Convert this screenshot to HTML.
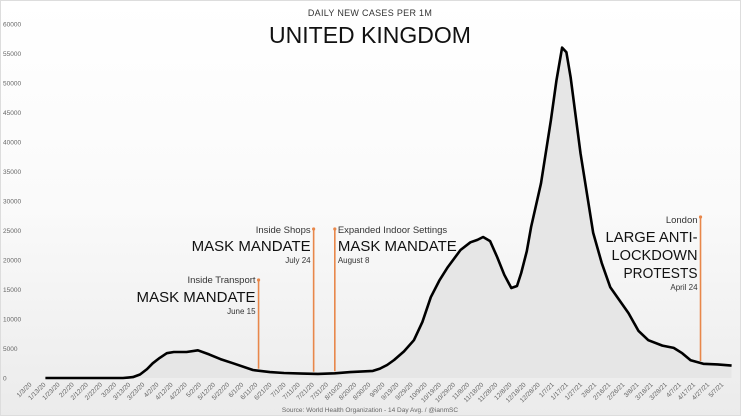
<!DOCTYPE html>
<html><head><meta charset="utf-8">
<style>
html,body{margin:0;padding:0;background:#fff;}
svg{display:block;font-family:"Liberation Sans",sans-serif;}
</style></head>
<body>
<svg id="chart" width="741" height="416" viewBox="0 0 741 416" xmlns="http://www.w3.org/2000/svg">
<defs>
<linearGradient id="bg" x1="0" y1="0" x2="0" y2="1">
<stop offset="0" stop-color="#ffffff"/><stop offset="0.5" stop-color="#fafafa"/><stop offset="1" stop-color="#ebebeb"/>
</linearGradient>
</defs>
<rect x="0" y="0" width="741" height="416" fill="url(#bg)"/>
<rect x="0.5" y="0.5" width="740" height="415" fill="none" stroke="#ddd"/>
<g id="yaxis"></g>
<g id="xaxis"></g>
<g id="series"></g>
<g id="notes"></g>
<text x="370" y="16" text-anchor="middle" font-size="9" fill="#333" letter-spacing="0.3">DAILY NEW CASES PER 1M</text>
<text x="370" y="43" text-anchor="middle" font-size="23" fill="#111">UNITED KINGDOM</text>
<text x="370" y="412" text-anchor="middle" font-size="6.5" fill="#666">Source: World Health Organization - 14 Day Avg. / @ianmSC</text>
</svg>
<script>
const yTicks=[0,5000,10000,15000,20000,25000,30000,35000,40000,45000,50000,55000,60000];
const xTickLabels=["1/3/20","1/13/20","1/23/20","2/2/20","2/12/20","2/22/20","3/3/20","3/13/20","3/23/20","4/2/20","4/12/20","4/22/20","5/2/20","5/12/20","5/22/20","6/1/20","6/11/20","6/21/20","7/1/20","7/11/20","7/21/20","7/31/20","8/10/20","8/20/20","8/30/20","9/9/20","9/19/20","9/29/20","10/9/20","10/19/20","10/29/20","11/8/20","11/18/20","11/28/20","12/8/20","12/18/20","12/28/20","1/7/21","1/17/21","1/27/21","2/6/21","2/16/21","2/26/21","3/8/21","3/18/21","3/28/21","4/7/21","4/17/21","4/27/21","5/7/21"];
const days=[13,68,75,80,85,89,94,99,104,113,121,129,137,146,160,172,182,195,206,218,229,245,250,255,260,267,274,280,286,292,298,307,314,319,323,328,333,338,343,347,350,354,357,364,371,375,379,382,385,392,401,407,413,426,433,440,450,458,464,470,479,489,499];
const cases=[0,0,150,600,1500,2500,3400,4200,4400,4400,4700,4000,3200,2500,1350,1000,850,750,700,800,1000,1200,1600,2200,3050,4500,6400,9500,13700,16500,18800,21700,23000,23400,23900,23200,20500,17500,15250,15600,17800,21500,25600,33000,43700,50500,56000,55200,51000,38100,24600,19500,15400,11000,8000,6400,5500,5100,4200,3000,2400,2300,2100];
const noteDays=[164,203,218,477];
const noteTops=[280,229,229,217];

const NS="http://www.w3.org/2000/svg";
const X0=27,DX=1.412,Y0=378,YS=354/60000;
function xs(d){return X0+d*DX;}
function ys(v){return Y0-v*YS;}
function mk(tag,attrs,parent,txt){const e=document.createElementNS(NS,tag);for(const k in attrs)e.setAttribute(k,attrs[k]);if(txt!==undefined)e.textContent=txt;parent.appendChild(e);return e;}

const ya=document.getElementById('yaxis');
yTicks.forEach(v=>{
  const t=mk('text',{x:3,y:ys(v)+2.5,'font-size':6.5,fill:'#666'},ya,String(v));
  
  
});
const xa=document.getElementById('xaxis');
xTickLabels.forEach((s,i)=>{
  const x=xs(i*10)+5,y=385;
  const t=mk('text',{x:x,y:y,'font-size':6.5,fill:'#666','text-anchor':'end',transform:`rotate(-45 ${x} ${y})`},xa,s);
  
  
});

const sg=document.getElementById('series');
let pts=days.map((d,i)=>[xs(d),ys(cases[i])]);
const linePath='M'+pts.map(p=>p[0].toFixed(1)+','+p[1].toFixed(1)).join(' L');
const area=mk('path',{d:linePath+` L${pts[pts.length-1][0]},${Y0} L${pts[0][0]},${Y0} Z`,fill:'#e6e6e6'},sg);


const line=mk('path',{d:linePath,fill:'none',stroke:'#000','stroke-width':2.6,'stroke-linejoin':'round'},sg);



function interp(d){for(let i=0;i<days.length-1;i++){if(d>=days[i]&&d<=days[i+1]){const f=(d-days[i])/(days[i+1]-days[i]);return cases[i]+f*(cases[i+1]-cases[i]);}}return 0;}
const ng=document.getElementById('notes');
noteDays.forEach((d,i)=>{
  const x=xs(d);
  const l=mk('line',{x1:x,x2:x,y1:noteTops[i],y2:ys(interp(d))-2,stroke:'#e8874a','stroke-width':1.6},ng);
  
  
  const c=mk('circle',{cx:x,cy:noteTops[i],r:1.6,fill:'#e8874a'},ng);
  
  
});
function txt(x,y,s,size,anchor,name,col,len){const at={x:x,y:y,'font-size':size,'text-anchor':anchor,fill:col||'#111'};if(len){at.textLength=len;at.lengthAdjust='spacingAndGlyphs';}const t=mk('text',at,ng,s);}
let a=xs(noteDays[0])-3;
txt(a,283,'Inside Transport',9.5,'end','transport-label','#333');
txt(a,302,'MASK MANDATE',15,'end','transport-mandate','#111',119);
txt(a,314,'June 15',8,'end','transport-date','#333');
a=xs(noteDays[1])-3;
txt(a,233,'Inside Shops',9.5,'end','shops-label','#333');
txt(a,251,'MASK MANDATE',15,'end','shops-mandate','#111',119);
txt(a,263,'July 24',8,'end','shops-date','#333');
a=xs(noteDays[2])+3;
txt(a,233,'Expanded Indoor Settings',9.5,'start','indoor-label','#333');
txt(a,251,'MASK MANDATE',15,'start','indoor-mandate','#111',119);
txt(a,263,'August 8',8,'start','indoor-date','#333');
a=xs(noteDays[3])-3;
txt(a,223,'London',9.5,'end','london-label','#333');
txt(a,242,'LARGE ANTI-',15,'end','protest-line1','#111',92);
txt(a,260,'LOCKDOWN',15,'end','protest-line2','#111',86);
txt(a,278,'PROTESTS',15,'end','protest-line3','#111',74);
txt(a,290,'April 24',8,'end','protest-date','#333');
</script>
</body></html>
